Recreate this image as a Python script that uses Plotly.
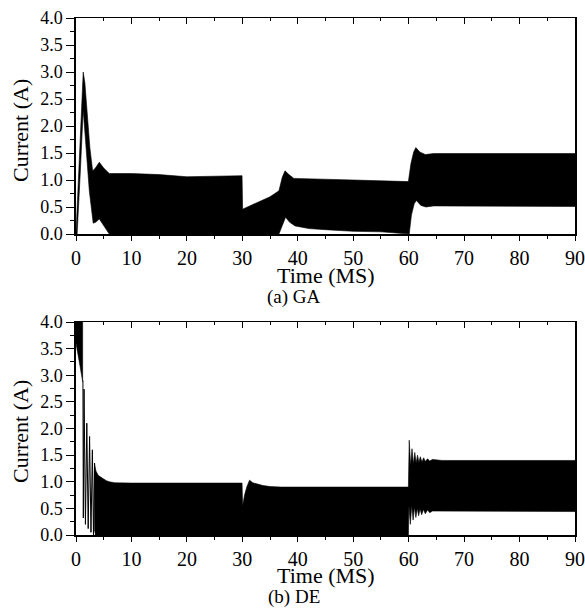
import plotly.graph_objects as go

# ---------------- data (envelopes) ----------------
# (a) GA
ga_up_t = [0, 0.5, 1.0, 1.3, 1.6, 2.0, 2.5, 3.0, 3.5, 4.2, 5.0, 6.0, 10, 15, 20, 25, 29.95,
           30.05, 33, 35, 36.6, 37.2, 37.7, 38.4, 39.3, 42, 50, 59.95, 60.4, 60.9, 61.3, 62.0,
           63.0, 64.5, 70, 90]
ga_up_i = [0, 1.1, 2.4, 3.0, 2.8, 2.3, 1.6, 1.17, 1.22, 1.33, 1.22, 1.12, 1.12, 1.1, 1.06, 1.07, 1.08,
           0.46, 0.59, 0.69, 0.8, 1.05, 1.17, 1.1, 1.03, 1.02, 1.0, 0.97, 1.3, 1.52, 1.6, 1.52,
           1.47, 1.49, 1.49, 1.49]
ga_lo_t = [0, 0.2, 0.8, 1.3, 1.8, 2.4, 3.1, 3.6, 4.2, 5.0, 6.0, 36.6, 37.2, 37.8, 38.5, 39.5,
           42, 45, 50, 55, 60.1, 60.5, 61.0, 61.4, 62.2, 63.1, 64.5, 70, 90]
ga_lo_i = [0, 0, 1.2, 2.3, 1.6, 0.8, 0.2, 0.22, 0.28, 0.15, 0, 0, 0.15, 0.31, 0.22, 0.15,
           0.1, 0.08, 0.05, 0.04, 0.0, 0.35, 0.56, 0.62, 0.53, 0.5, 0.52, 0.51, 0.51]

# (b) DE : start-up burst
de_head_up_t = [0, 1.0, 1.2, 1.3]
de_head_up_i = [4.5, 4.3, 4.0, 2.9]
de_head_lo_t = [0, 0.25, 0.7, 1.2]
de_head_lo_i = [3.6, 3.5, 3.19, 2.88]
# (b) DE : first decaying oscillation peaks
de_osc_t = [1.25, 1.32, 1.45, 1.7, 1.95, 2.2, 2.45, 2.7, 2.95, 3.15, 3.35, 3.5]
de_osc_i = [2.9, 0.32, 2.74, 0.2, 2.1, 0.12, 1.85, 0.05, 1.6, 0.0, 1.35, 0.0]
# (b) DE : envelope of the steady ripple
de_up_t = [3.3, 3.6, 4.0, 4.5, 5.0, 5.5, 6.0, 7.0, 10, 20, 29.95, 30.05, 30.4, 30.8, 31.3, 31.9,
           32.8, 33.7, 35, 37, 45, 59.95, 60.1, 60.35, 60.6, 60.85, 61.1, 61.35, 61.6, 61.85,
           62.1, 62.4, 62.7, 63.0, 63.4, 63.8, 64.3, 65, 66, 75, 90]
de_up_i = [1.35, 1.2, 1.12, 1.08, 1.05, 1.02, 1.0, 0.98, 0.975, 0.975, 0.975, 0.55, 0.75, 0.9, 1.03, 0.98,
           0.95, 0.93, 0.91, 0.9, 0.9, 0.9, 1.78, 1.3, 1.62, 1.33, 1.55, 1.35, 1.5, 1.36,
           1.47, 1.37, 1.45, 1.38, 1.43, 1.39, 1.42, 1.41, 1.4, 1.4, 1.4]
de_lo_t = [3.3, 3.6, 59.95, 60.05, 60.3, 60.55, 60.8, 61.05, 61.3, 61.55, 61.8, 62.05, 62.35,
           62.65, 63.0, 63.4, 63.8, 64.3, 65, 66, 90]
de_lo_i = [0.1, 0.0, 0.0, 0.55, 0.2, 0.55, 0.28, 0.52, 0.33, 0.5, 0.36, 0.49, 0.38,
           0.48, 0.4, 0.47, 0.42, 0.45, 0.44, 0.44, 0.44]

x_tickvals = [0, 10, 20, 30, 40, 50, 60, 70, 80, 90]
x_ticktext = ["0", "10", "20", "30", "40", "50", "60", "70", "80", "90"]
y_tickvals = [0.0, 0.5, 1.0, 1.5, 2.0, 2.5, 3.0, 3.5, 4.0]
y_ticktext = ["0.0", "0.5", "1.0", "1.5", "2.0", "2.5", "3.0", "3.5", "4.0"]

x_title = "Time (MS)"
y_title = "Current (A)"
caption_a = "(a) GA"
caption_b = "(b) DE"

# ---------------- figure ----------------
W, H = 585, 610
PLOT_L, PLOT_R, PLOT_T, PLOT_B = 76, 575, 18, 535   # plotting window in pixels
ML, MR, MT, MB = PLOT_L, W - PLOT_R, PLOT_T, H - PLOT_B
PW, PH = W - ML - MR, H - MT - MB


def py(pix):  # pixel row -> paper y
    return (PLOT_B - pix) / PH


def px(pix):  # pixel col -> paper x
    return (pix - PLOT_L) / PW


FONT = "Liberation Serif"
BLACK = "#000000"

fig = go.Figure()


def band(t_up, i_up, t_lo, i_lo, xa, ya):
    return go.Scatter(x=list(t_up) + list(t_lo)[::-1], y=list(i_up) + list(i_lo)[::-1],
                      mode="lines", fill="toself", fillcolor=BLACK,
                      line=dict(color=BLACK, width=0.6), xaxis=xa, yaxis=ya,
                      hoverinfo="skip", showlegend=False)


fig.add_trace(band(ga_up_t, ga_up_i, ga_lo_t, ga_lo_i, "x", "y"))
fig.add_trace(band(de_head_up_t, de_head_up_i, de_head_lo_t, de_head_lo_i, "x2", "y2"))
fig.add_trace(go.Scatter(x=de_osc_t, y=de_osc_i, mode="lines", line=dict(color=BLACK, width=1),
                         xaxis="x2", yaxis="y2", hoverinfo="skip", showlegend=False))
fig.add_trace(band(de_up_t, de_up_i, de_lo_t, de_lo_i, "x2", "y2"))
# helper traces so the top mirror axes get drawn
fig.add_trace(go.Scatter(x=[], y=[], xaxis="x3", yaxis="y", showlegend=False))
fig.add_trace(go.Scatter(x=[], y=[], xaxis="x4", yaxis="y2", showlegend=False))

top_dom = [py(234), 1.0]
bot_dom = [0.0, py(322)]

xcommon = dict(range=[0, 90], showgrid=False, zeroline=False, showline=True, automargin=False,
               linecolor=BLACK, linewidth=1.5, tickvals=x_tickvals, ticktext=x_ticktext,
               ticks="outside", ticklen=5, tickwidth=1.2, tickcolor=BLACK,
               minor=dict(dtick=5, ticks="outside", ticklen=3, tickwidth=1.2, tickcolor=BLACK),
               tickfont=dict(family=FONT, size=20, color=BLACK))
ycommon = dict(range=[0, 4], showgrid=False, zeroline=False, showline=True, mirror=True,
               automargin=False,
               linecolor=BLACK, linewidth=1.5, tickvals=y_tickvals, ticktext=y_ticktext,
               ticks="outside", ticklen=8, tickwidth=1.2, tickcolor=BLACK,
               minor=dict(dtick=0.25, ticks="outside", ticklen=4, tickwidth=1.2, tickcolor=BLACK),
               tickfont=dict(family=FONT, size=18, color=BLACK))
xtop = dict(range=[0, 90], showgrid=False, zeroline=False, showline=True, side="top",
            automargin=False,
            linecolor=BLACK, linewidth=1.2, dtick=10, tick0=0, ticks="inside", ticklen=6,
            tickwidth=1.2, tickcolor=BLACK, showticklabels=False,
            minor=dict(dtick=5, ticks="inside", ticklen=3, tickwidth=1.2, tickcolor=BLACK))

fig.update_layout(
    width=W, height=H, margin=dict(l=ML, r=MR, t=MT, b=MB, autoexpand=False),
    paper_bgcolor="white", plot_bgcolor="white", showlegend=False,
    xaxis=dict(**xcommon, anchor="y", domain=[0, 1]),
    yaxis=dict(**ycommon, anchor="x", domain=top_dom),
    xaxis2=dict(**xcommon, anchor="y2", domain=[0, 1]),
    yaxis2=dict(**ycommon, anchor="x2", domain=bot_dom),
    xaxis3=dict(**xtop, overlaying="x", anchor="y"),
    xaxis4=dict(**xtop, overlaying="x2", anchor="y2"),
)

ann = []
for yc in (131, 432):
    ann.append(dict(text=y_title, xref="paper", yref="paper", x=px(20), y=py(yc),
                    xanchor="center", yanchor="middle", textangle=-90, showarrow=False,
                    font=dict(family=FONT, size=22, color=BLACK)))
for yc in (275, 575):
    ann.append(dict(text=x_title, xref="paper", yref="paper", x=px(326), y=py(yc),
                    xanchor="center", yanchor="middle", showarrow=False,
                    font=dict(family=FONT, size=22, color=BLACK)))
for txt, yc in ((caption_a, 297), (caption_b, 597)):
    ann.append(dict(text=txt, xref="paper", yref="paper", x=px(294), y=py(yc),
                    xanchor="center", yanchor="middle", showarrow=False,
                    font=dict(family=FONT, size=19, color=BLACK)))
fig.update_layout(annotations=ann)

fig.write_html("out.html", config={"displayModeBar": False},
               post_script="document.body.style.margin='0';document.body.style.overflow='hidden';")
